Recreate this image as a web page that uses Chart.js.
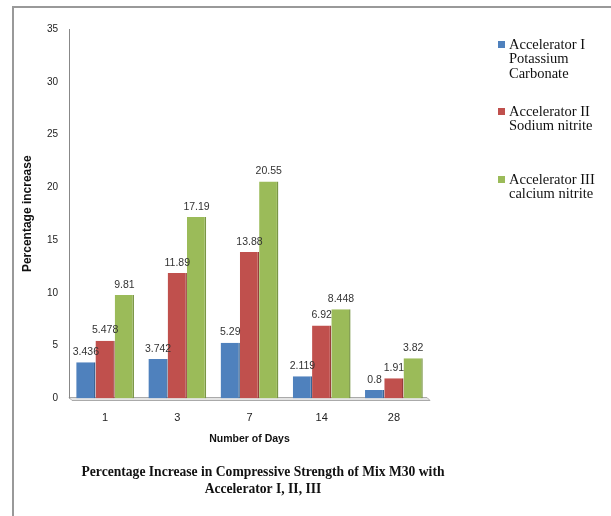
<!DOCTYPE html>
<html>
<head>
<meta charset="utf-8">
<script src="https://cdn.jsdelivr.net/npm/chart.js@4"></script>
<style>
  body { margin: 0; background: #fff; }
  #wrap { position: relative; width: 611px; height: 516px; }
  #frame { position: absolute; left: 12px; top: 6px; right: -4px; bottom: -4px;
           border-left: 2px solid #999; border-top: 2px solid #999; }
  canvas { position: absolute; left: 0; top: 0; }
</style>
</head>
<body>
<div id="wrap">
  <div id="frame"></div>
  <canvas id="myChart" width="611" height="516"></canvas>
</div>
<script>
const days = ['1', '3', '7', '14', '28'];
const accel1 = [3.436, 3.742, 5.29, 2.119, 0.8];
const accel2 = [5.478, 11.89, 13.88, 6.92, 1.91];
const accel3 = [9.81, 17.19, 20.55, 8.448, 3.82];
const legend1 = ['Accelerator I', 'Potassium', 'Carbonate'];
const legend2 = ['Accelerator II', 'Sodium nitrite'];
const legend3 = ['Accelerator III', 'calcium nitrite'];
const yTicks = [0, 5, 10, 15, 20, 25, 30, 35];

const colors = ['#4F81BD', '#C0504D', '#9BBB59'];
const edges = ['#3a6595', '#983d3a', '#7a9645'];

// value labels over each bar
const barLabels = {
  id: 'barLabels',
  afterDatasetsDraw(chart) {
    const ctx = chart.ctx;
    ctx.save();
    ctx.font = '10.5px "Liberation Sans", sans-serif';
    ctx.fillStyle = '#333';
    ctx.textAlign = 'center';
    ctx.textBaseline = 'bottom';
    chart.data.datasets.forEach((ds, i) => {
      chart.getDatasetMeta(i).data.forEach((bar, j) => {
        ctx.fillText(String(ds.data[j]), bar.x, bar.y - 5);
      });
    });
    ctx.restore();
  }
};

// floor line and y axis line
const axesLines = {
  id: 'axesLines',
  beforeDatasetsDraw(chart) {
    const a = chart.chartArea;
    const ctx = chart.ctx;
    ctx.save();
    ctx.fillStyle = '#e4e4e4';
    ctx.strokeStyle = '#aaa';
    ctx.lineWidth = 1;
    ctx.beginPath();
    ctx.moveTo(a.left, a.bottom - 1);
    ctx.lineTo(a.right - 3, a.bottom - 1);
    ctx.lineTo(a.right, a.bottom + 2);
    ctx.lineTo(a.left + 3, a.bottom + 2);
    ctx.closePath();
    ctx.fill();
    ctx.stroke();
    ctx.strokeStyle = '#888';
    ctx.beginPath();
    ctx.moveTo(a.left + 0.5, a.top);
    ctx.lineTo(a.left + 0.5, a.bottom);
    ctx.stroke();
    ctx.restore();
  }
};

// legend with wrapped labels on the right
const sideLegend = {
  id: 'sideLegend',
  afterDraw(chart) {
    const ctx = chart.ctx;
    const starts = [45, 112, 180];
    ctx.save();
    ctx.font = '14.5px "Liberation Serif", serif';
    ctx.textBaseline = 'middle';
    chart.data.datasets.forEach((ds, i) => {
      ctx.fillStyle = ds.backgroundColor;
      ctx.fillRect(498, starts[i] - 4, 7, 7);
      ctx.fillStyle = '#111';
      ds.label.forEach((line, k) => {
        ctx.fillText(line, 509, starts[i] + k * 14.5);
      });
    });
    ctx.restore();
  }
};

const ctx = document.getElementById('myChart');
new Chart(ctx, {
  type: 'bar',
  data: {
    labels: days,
    datasets: [
      { label: legend1, data: accel1, backgroundColor: colors[0], borderColor: edges[0] },
      { label: legend2, data: accel2, backgroundColor: colors[1], borderColor: edges[1] },
      { label: legend3, data: accel3, backgroundColor: colors[2], borderColor: edges[2] }
    ]
  },
  plugins: [axesLines, barLabels, sideLegend],
  options: {
    responsive: false,
    animation: false,
    datasets: {
      bar: {
        categoryPercentage: 0.8,
        barPercentage: 1.0,
        borderWidth: { top: 0, left: 0, bottom: 0, right: 1.5 },
        borderSkipped: false
      }
    },
    layout: { padding: { top: 29, right: 85, left: 0, bottom: 0 } },
    plugins: {
      legend: { display: false },
      tooltip: { enabled: false },
      title: {
        display: true,
        position: 'bottom',
        text: ['Percentage Increase in Compressive Strength of Mix M30 with', 'Accelerator I, II, III'],
        color: '#111',
        font: { family: '"Liberation Serif", serif', size: 13.6, weight: 'bold', lineHeight: 1.25 },
        padding: { top: 6, bottom: 18 }
      }
    },
    scales: {
      x: {
        grid: { display: false, drawTicks: false },
        border: { display: false },
        ticks: { color: '#222', padding: 13, font: { family: '"Liberation Sans", sans-serif', size: 11 } },
        title: {
          display: true,
          text: 'Number of Days',
          color: '#111',
          font: { family: '"Liberation Sans", sans-serif', size: 10.5, weight: 'bold' },
          padding: { top: 4, bottom: 13 }
        },
        afterFit(scale) { scale.height = 59.5; }
      },
      y: {
        min: 0,
        max: 35,
        grid: { display: false, drawTicks: false },
        border: { display: false },
        afterBuildTicks(scale) { scale.ticks = yTicks.map(v => ({ value: v })); },
        ticks: { color: '#222', padding: 11, font: { family: '"Liberation Sans", sans-serif', size: 10 } },
        title: {
          display: true,
          text: 'Percentage increase',
          color: '#111',
          font: { family: '"Liberation Sans", sans-serif', size: 12, weight: 'bold' },
          padding: { top: 20, bottom: 0 }
        },
        afterFit(scale) { scale.width = 69; }
      },
      // empty right scale that reserves room for the legend
      yr: {
        type: 'linear',
        position: 'right',
        grid: { display: false, drawTicks: false },
        border: { display: false },
        ticks: { display: false },
        afterFit(scale) { scale.width = 96; }
      }
    }
  }
});
</script>
</body>
</html>
